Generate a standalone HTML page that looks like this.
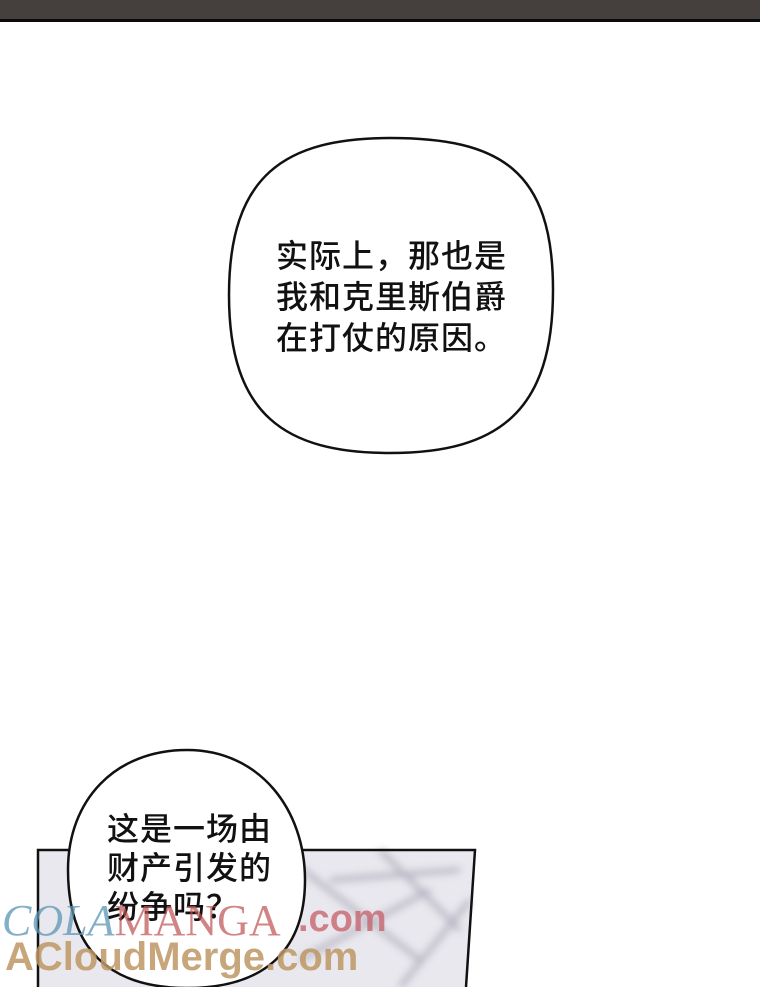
<!DOCTYPE html>
<html><head><meta charset="utf-8"><style>
body{margin:0;width:760px;height:987px;overflow:hidden;background:#fff;position:relative;font-family:"Liberation Sans","Noto Sans CJK SC",sans-serif}
.bar{position:absolute;left:0;top:0;width:760px;height:19px;background:#45403d}
.bl{position:absolute;left:0;top:19px;width:760px;height:3px;background:#0a0a0a}
.t{position:absolute;font-size:32px;line-height:41px;color:#111;font-weight:500;white-space:nowrap;letter-spacing:1px}
.wm{position:absolute;white-space:nowrap}
</style></head><body>
<div class="bar"></div><div class="bl"></div>
<svg width="760" height="987" style="position:absolute;left:0;top:0">
<defs><filter id="b"><feGaussianBlur stdDeviation="4"/></filter></defs>
<polygon points="38,850 475,850 466,987 38,987" fill="#e9e8ee"/>
<g filter="url(#b)" stroke="#a9a6b4" stroke-width="5" fill="none" opacity=".8">
<path d="M290,860 L420,960 M330,880 L460,870 M380,850 L460,930 M300,960 L430,890 M400,987 L470,900"/>
</g>
<polyline points="38,987 38,850 475,850 466,987" fill="none" stroke="#111" stroke-width="2.5"/>
<path d="M390,138 C500,138 553,170 553,290 C553,410 500,453 390,453 C285,453 229,415 229,295 C229,175 285,138 390,138Z" fill="#fff" stroke="#111" stroke-width="2.5"/>
<path d="M187,750 C260,750 305,810 305,880 C305,950 265,988 187,988 C110,988 68,950 68,870 C68,800 115,750 187,750Z" fill="#fff" stroke="#111" stroke-width="2.5"/>
</svg>
<div class="t" style="left:276px;top:236px">实际上，那也是<br>我和克里斯伯爵<br>在打仗的原因。</div>
<div class="t" style="left:107px;top:810px;line-height:39px">这是一场由<br>财产引发的<br>纷争吗？</div>
<div class="wm" style="left:2px;top:895px;font:italic 44px 'Liberation Serif',serif;color:rgba(90,150,180,.75)">COLA<span style="color:rgba(190,80,80,.7);font-style:normal">MANGA</span></div>
<div class="wm" style="left:298px;top:898px;font:bold 38px 'Liberation Sans',sans-serif;color:rgba(200,100,110,.8)">.com</div>
<div class="wm" style="left:5px;top:935px;font:bold 40px 'Liberation Sans',sans-serif;color:rgba(190,150,100,.85)">ACloudMerge.com</div>
</body></html>
